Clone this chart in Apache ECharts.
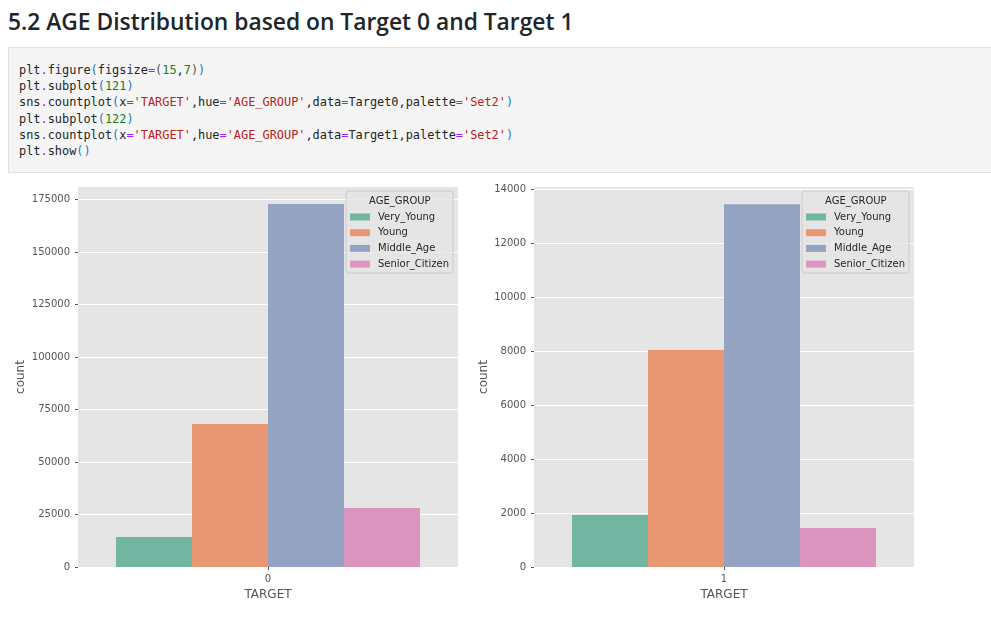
<!DOCTYPE html>
<html>
<head>
<meta charset="utf-8">
<title>AGE Distribution</title>
<script src="https://cdn.jsdelivr.net/npm/echarts@6/dist/echarts.min.js"></script>
<style>
  html, body { margin: 0; padding: 0; background: #fff; width: 991px; height: 624px; overflow: hidden; }
  h2 { position: absolute; left: 8px; top: 5px; margin: 0; font: 600 22.8px/34px "Open Sans", sans-serif; color: #212529; white-space: nowrap; }
  pre { position: absolute; left: 8px; top: 47px; width: 972px; height: 124px; margin: 0; padding: 0 0 0 10px; background: #f5f5f5; border: 1px solid #e0e0e0; border-right: 0; box-sizing: content-box; font: 11.9px/16.2px "DejaVu Sans Mono", monospace; color: #212529; }
  pre code { display: block; padding-top: 14px; font: inherit; }
  .o { color: #a020f0; } .n { color: #1a7f1a; } .s { color: #ba2121; } .p { color: #555; } .q { color: #1c7cc4; }
  #chart { position: absolute; left: 0; top: 0; width: 991px; height: 624px; }
</style>
</head>
<body>
<h2>5.2 AGE Distribution based on Target 0 and Target 1</h2>
<pre><code>plt<span class="o">.</span>figure<span class="q">(</span>figsize<span class="o">=</span><span class="p">(</span><span class="n">15</span>,<span class="n">7</span><span class="p">)</span><span class="q">)</span>
plt<span class="o">.</span>subplot<span class="q">(</span><span class="n">121</span><span class="q">)</span>
sns<span class="o">.</span>countplot<span class="q">(</span>x<span class="o">=</span><span class="s">'TARGET'</span>,hue<span class="o">=</span><span class="s">'AGE_GROUP'</span>,data<span class="o">=</span>Target0,palette<span class="o">=</span><span class="s">'Set2'</span><span class="q">)</span>
plt<span class="o">.</span>subplot<span class="q">(</span><span class="n">122</span><span class="q">)</span>
sns<span class="o">.</span>countplot<span class="q">(</span>x<span class="o">=</span><span class="s">'TARGET'</span>,hue<span class="o">=</span><span class="s">'AGE_GROUP'</span>,data<span class="o">=</span>Target1,palette<span class="o">=</span><span class="s">'Set2'</span><span class="q">)</span>
plt<span class="o">.</span>show<span class="q">()</span></code></pre>
<div id="chart"></div>
<script>
const ageGroups = ['Very_Young', 'Young', 'Middle_Age', 'Senior_Citizen'];
const palette = ['#72b6a1', '#e99675', '#95a3c3', '#db96c0'];

const target0Counts = [14300, 68100, 172850, 28100];
const target1Counts = [1930, 8040, 13440, 1445];

const target0Ticks = [0, 25000, 50000, 75000, 100000, 125000, 150000, 175000];
const target1Ticks = [0, 2000, 4000, 6000, 8000, 10000, 12000, 14000];
const target0Max = 180950;
const target1Max = 14075;

const chart = echarts.init(document.getElementById('chart'));
const textColor = '#555555';
const font = 'DejaVu Sans';

function xAxisFor(index, label) {
  return {
    type: 'category',
    gridIndex: index,
    data: [label],
    name: 'TARGET',
    nameLocation: 'middle',
    nameGap: 22,
    nameTextStyle: { color: textColor, fontFamily: font, fontSize: 12 },
    axisLine: { show: false },
    axisTick: { show: true, alignWithLabel: true, length: 3, lineStyle: { color: textColor } },
    axisLabel: { color: textColor, fontFamily: font, fontSize: 10, margin: 7 },
    splitLine: { show: false }
  };
}

function yAxisFor(index, max, ticks, nameGap) {
  return {
    type: 'value',
    gridIndex: index,
    min: 0,
    max: max,
    name: 'count',
    nameLocation: 'middle',
    nameGap: nameGap,
    nameTextStyle: { color: textColor, fontFamily: font, fontSize: 12 },
    axisLine: { show: false },
    axisTick: { show: true, length: 3, customValues: ticks, lineStyle: { color: textColor } },
    axisLabel: {
      color: textColor,
      fontFamily: font,
      fontSize: 10,
      margin: 8,
      padding: [2, 0, 0, 0],
      customValues: ticks,
      formatter: value => String(value)
    },
    splitLine: { show: true, lineStyle: { color: '#ffffff', width: 1 } }
  };
}

function legendFor(left) {
  return {
    orient: 'vertical',
    left: left,
    top: 191,
    padding: [21, 4, 4, 4],
    itemWidth: 20,
    itemHeight: 7,
    itemGap: 5.7,
    icon: 'rect',
    backgroundColor: 'rgba(229,229,229,0.8)',
    borderColor: '#cccccc',
    borderWidth: 1,
    borderRadius: 3,
    textStyle: { color: '#262626', fontFamily: font, fontSize: 10, padding: [0, 0, 0, 3] },
    data: ageGroups
  };
}

function titleFor(left) {
  return {
    text: 'AGE_GROUP',
    left: left,
    top: 196,
    padding: 0,
    z: 20,
    textStyle: { color: '#262626', fontFamily: font, fontSize: 10, fontWeight: 'normal' }
  };
}

function seriesFor(index, counts) {
  return ageGroups.map((name, i) => ({
    name: name,
    type: 'bar',
    xAxisIndex: index,
    yAxisIndex: index,
    barGap: 0,
    barCategoryGap: '20%',
    itemStyle: { color: palette[i] },
    data: [counts[i]]
  }));
}

chart.setOption({
  animation: false,
  title: [titleFor(369), titleFor(825)],
  legend: [legendFor(346), legendFor(802)],
  grid: [
    { left: 78, top: 187, width: 380, height: 380, show: true, backgroundColor: '#e5e5e5', borderWidth: 0 },
    { left: 534, top: 187, width: 380, height: 380, show: true, backgroundColor: '#e5e5e5', borderWidth: 0 }
  ],
  xAxis: [xAxisFor(0, '0'), xAxisFor(1, '1')],
  yAxis: [yAxisFor(0, target0Max, target0Ticks, 51), yAxisFor(1, target1Max, target1Ticks, 43)],
  series: seriesFor(0, target0Counts).concat(seriesFor(1, target1Counts))
});
</script>
</body>
</html>
